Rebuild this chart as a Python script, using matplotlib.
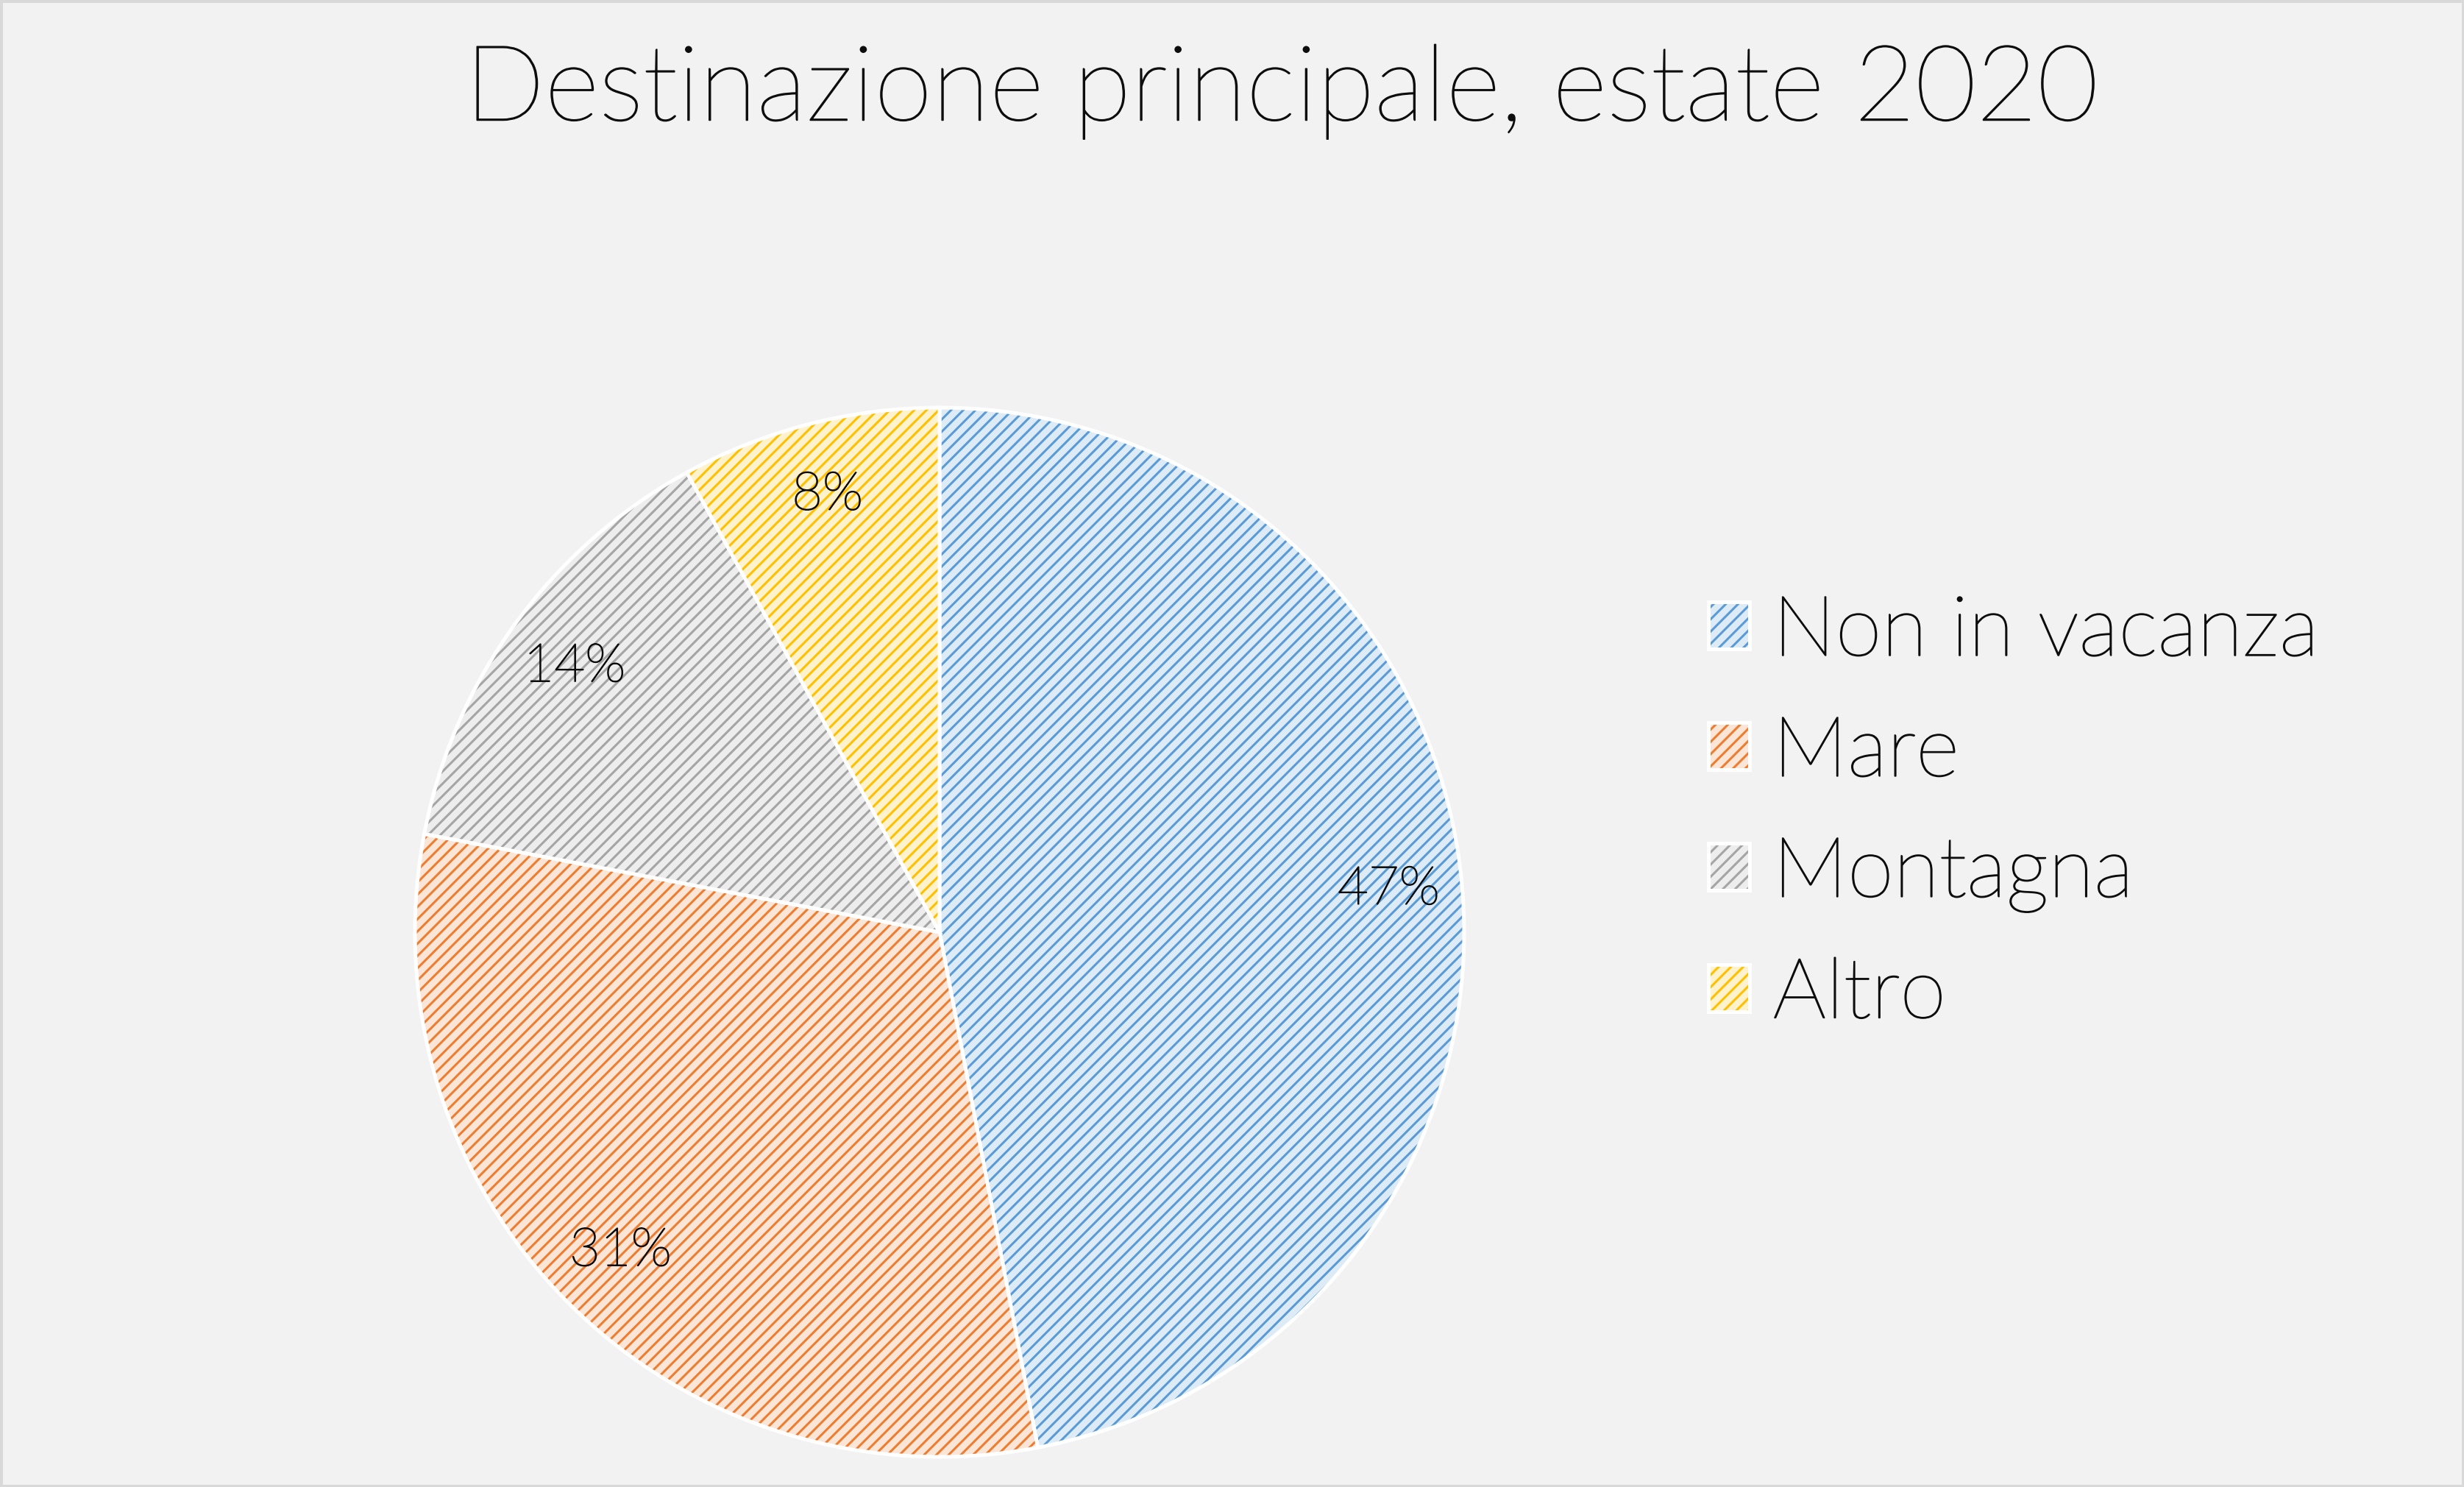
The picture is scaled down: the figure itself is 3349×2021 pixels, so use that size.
import matplotlib
matplotlib.use("Agg")
import matplotlib.pyplot as plt
import matplotlib.colors as mcolors
import matplotlib.patheffects as pe

categories = ["Non in vacanza", "Mare", "Montagna", "Altro"]
values = [47, 31, 14, 8]
title = "Destinazione principale, estate 2020"

hatch_colors = ["#5B9BD5", "#ED7D31", "#A5A5A5", "#FFC000"]
face_colors = ["#DDEBF7", "#FBE5D6", "#EDEDED", "#FFF2CC"]

plt.rcParams['font.family'] = ['Lato', 'DejaVu Sans']
plt.rcParams['hatch.linewidth'] = 1.1

TXT = "#0d0d0d"
thick = [pe.withStroke(linewidth=0.6, foreground=TXT)]

W, H = 3349, 2021
fig = plt.figure(figsize=(W / 200, H / 200), dpi=200, facecolor="#F2F2F2")
fig.patches.append(plt.Rectangle((0, 0), 1, 1, transform=fig.transFigure,
                                 fill=False, edgecolor="#D9D9D9", linewidth=2.5))

cx, cy, r = 1277, 1267, 713
ax = fig.add_axes([(cx - r) / W, (H - cy - r) / H, 2 * r / W, 2 * r / H])
ax.set_facecolor("none")

wedges, texts, autotexts = ax.pie(
    values, labels=None, colors=face_colors, startangle=90, counterclock=False,
    autopct="%1.0f%%", pctdistance=0.86,
    wedgeprops=dict(edgecolor="white", linewidth=1.8, hatch="////"),
    textprops=dict(fontsize=26, color=TXT, fontweight="light"))
for w, hc in zip(wedges, hatch_colors):
    w._hatch_color = mcolors.to_rgba(hc)
for t in autotexts:
    t.set_path_effects(thick)
ax.set_xlim(-1, 1)
ax.set_ylim(-1, 1)
ax.set_aspect("equal")
ax.axis("off")

fig.text(0.52, 0.938, title, ha="center", va="center", fontsize=51.5,
         color=TXT, fontweight="light", path_effects=thick)

leg = fig.legend(wedges, categories, loc="center left",
                 bbox_to_anchor=(0.6933, 0.4527), frameon=False,
                 fontsize=41, handlelength=0.49, handleheight=0.49,
                 handletextpad=0.28, labelspacing=0.535, borderpad=0, borderaxespad=0)
for t in leg.get_texts():
    t.set_color(TXT)
    t.set_fontweight("light")
    t.set_path_effects(thick)

fig.savefig("out.png", dpi=200, facecolor=fig.get_facecolor())
